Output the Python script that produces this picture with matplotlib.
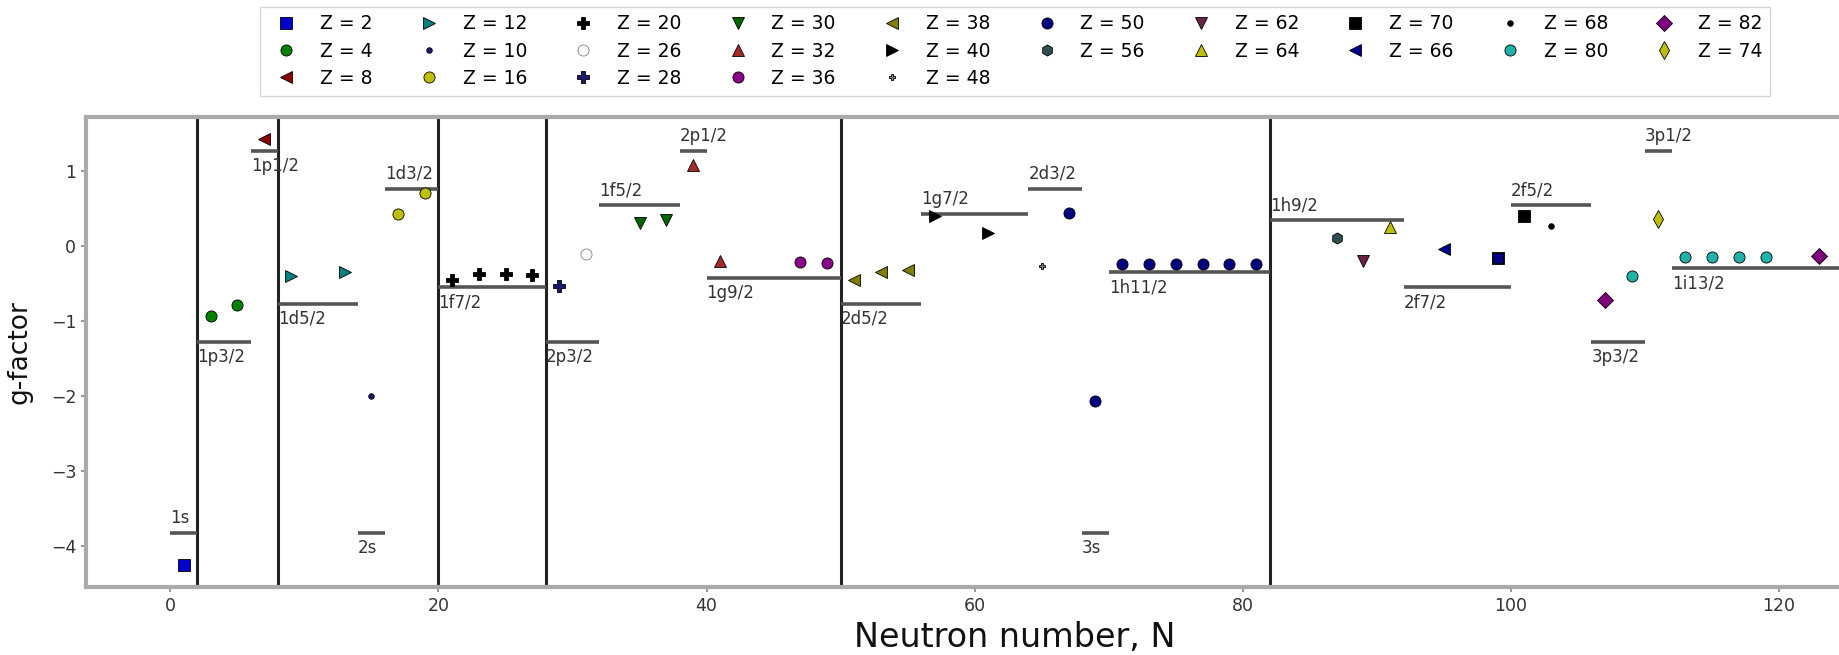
"""
g-factors of odd-N nuclei against neutron number, with the single-particle levels
"""
import matplotlib.pyplot as plt

# neutron shell closures (vertical lines)
magic_n = [2, 8, 20, 28, 50, 82, 126]

# single-particle levels: name, N range, g value, label above the line or not
level_names = ['1s', '1p3/2', '1p1/2', '1d5/2', '2s', '1d3/2', '1f7/2', '2p3/2',
               '1f5/2', '2p1/2', '1g9/2', '2d5/2', '1g7/2', '2d3/2', '3s', '1h11/2',
               '1h9/2', '2f7/2', '2f5/2', '3p3/2', '3p1/2', '1i13/2']
level_start = [0, 2, 6, 8, 14, 16, 20, 28, 32, 38, 40, 50, 56, 64, 68, 70,
               82, 92, 100, 106, 110, 112]
level_end = [2, 6, 8, 14, 16, 20, 28, 32, 38, 40, 50, 56, 64, 68, 70, 82,
             92, 100, 106, 110, 112, 126]
level_g = [-3.826, -1.275, 1.275, -0.765, -3.826, 0.765, -0.547, -1.275,
           0.547, 1.275, -0.425, -0.765, 0.425, 0.765, -3.826, -0.348,
           0.348, -0.547, 0.547, -1.275, 1.275, -0.294]
level_above = [True, False, False, False, False, True, False, False,
               True, True, False, False, True, True, False, False,
               True, False, True, False, True, False]

n_z2, g_z2 = [1], [-4.25]
n_z4, g_z4 = [3, 5], [-0.93, -0.78]
n_z8, g_z8 = [7], [1.43]
n_z12, g_z12 = [9, 13], [-0.39, -0.34]
n_z10, g_z10 = [15], [-2.0]
n_z16, g_z16 = [17, 19], [0.43, 0.71]
n_z20, g_z20 = [21, 23, 25, 27], [-0.45, -0.37, -0.37, -0.38]
n_z26, g_z26 = [31], [-0.10]
n_z28, g_z28 = [29], [-0.53]
n_z30, g_z30 = [35, 37], [0.31, 0.35]
n_z32, g_z32 = [39, 41], [1.09, -0.20]
n_z36, g_z36 = [47, 49], [-0.21, -0.22]
n_z38, g_z38 = [51, 53, 55], [-0.45, -0.34, -0.32]
n_z40, g_z40 = [57, 61], [0.40, 0.18]
n_z48, g_z48 = [65], [-0.26]
n_z50, g_z50 = [67, 69, 71, 73, 75, 77, 79, 81], [0.445, -2.07, -0.23, -0.23, -0.23, -0.23, -0.23, -0.23]
n_z56, g_z56 = [87], [0.11]
n_z62, g_z62 = [89], [-0.19]
n_z64, g_z64 = [91], [0.26]
n_z70, g_z70 = [99, 101], [-0.16, 0.41]
n_z66, g_z66 = [95], [-0.04]
n_z66b, g_z66b = [99], [-0.16]
n_z68, g_z68 = [103], [0.27]
n_z80, g_z80 = [109, 113, 115, 117, 119], [-0.395, -0.14, -0.14, -0.14, -0.14]
n_z82, g_z82 = [107, 123], [-0.72, -0.13]
n_z74, g_z74 = [111], [0.37]

# (label, N, g, marker, face colour, size) in legend order
series = [
    ('Z = 2', n_z2, g_z2, 's', 'mediumblue', 8),
    ('Z = 4', n_z4, g_z4, 'o', 'green', 8),
    ('Z = 8', n_z8, g_z8, '<', 'darkred', 8),
    ('Z = 12', n_z12, g_z12, '>', 'teal', 8),
    ('Z = 10', n_z10, g_z10, '.', 'midnightblue', 8),
    ('Z = 16', n_z16, g_z16, 'o', 'y', 8),
    ('Z = 20', n_z20, g_z20, 'P', 'black', 9),
    ('Z = 26', n_z26, g_z26, 'o', 'white', 8),
    ('Z = 28', n_z28, g_z28, 'P', 'midnightblue', 8),
    ('Z = 30', n_z30, g_z30, 'v', 'darkgreen', 8),
    ('Z = 32', n_z32, g_z32, '^', 'brown', 8),
    ('Z = 36', n_z36, g_z36, 'o', 'darkmagenta', 8),
    ('Z = 38', n_z38, g_z38, '<', 'olive', 8),
    ('Z = 40', n_z40, g_z40, '>', 'black', 8),
    ('Z = 48', n_z48, g_z48, 'P', 'gray', 5),
    ('Z = 50', n_z50, g_z50, 'o', 'navy', 8),
    ('Z = 56', n_z56, g_z56, 'h', 'darkslategray', 8),
    ('Z = 62', n_z62, g_z62, 'v', '#6b2248', 8),
    ('Z = 64', n_z64, g_z64, '^', 'y', 8),
    ('Z = 70', n_z70, g_z70, 's', 'black', 8),
    ('Z = 66', n_z66, g_z66, '<', 'darkblue', 8),
    ('Z = 68', n_z68, g_z68, '.', 'black', 8),
    ('Z = 80', n_z80, g_z80, 'o', 'lightseagreen', 8),
    ('Z = 82', n_z82, g_z82, 'D', 'purple', 8),
    ('Z = 74', n_z74, g_z74, 'd', 'y', 9),
]

fig = plt.figure(figsize=(18.4, 6.55), dpi=100)
# axes run past the right edge, as in the cropped original
ax = fig.add_axes([0.0467, 0.1034, 1.0098, 0.7185])

for n in magic_n:
    ax.axvline(n, color='#222222', lw=2.2, zorder=1)

for name, x0, x1, g, above in zip(level_names, level_start, level_end, level_g, level_above):
    ax.hlines(g, x0, x1, color='#555555', lw=2.6, zorder=2)
    if above:
        ax.text(x0, g + 0.08, name, ha='left', va='bottom', fontsize=12, color='#333333')
    else:
        ax.text(x0, g - 0.08, name, ha='left', va='top', fontsize=12, color='#333333')

for label, n, g, marker, color, size in series:
    edge = 'gray' if color == 'white' else 'black'
    ax.plot(n, g, linestyle='none', marker=marker, color=color, markersize=size,
            markeredgecolor=edge, markeredgewidth=0.6, label=label, zorder=3)

# overlapping point at N = 99
ax.plot(n_z66b, g_z66b, linestyle='none', marker='s', color='darkblue', markersize=6.5,
        markeredgecolor='black', markeredgewidth=0.6, zorder=4)

ax.set_xlim(-6.3, 132.3)
ax.set_ylim(-4.55, 1.73)

for side in ['left', 'right', 'top', 'bottom']:
    ax.spines[side].set_color('#aaaaaa')
    ax.spines[side].set_linewidth(3)
ax.tick_params(colors='#999999', labelcolor='#333333', labelsize=12.5, width=1.5)

ax.set_xlabel('Neutron number, N', fontsize=24, color='#111111')
ax.set_ylabel('g-factor', fontsize=19, color='#111111')
ax.yaxis.set_label_coords(-0.0285, 0.5)

ax.legend(loc='lower center', bbox_to_anchor=(0.5, 1.025), ncol=10, fontsize=13.5,
          fancybox=False, edgecolor='#cccccc', columnspacing=2.0, handletextpad=0.8,
          labelspacing=0.45, borderpad=0.4, numpoints=1)

fig.savefig('out.png', dpi=100)
plt.close(fig)
